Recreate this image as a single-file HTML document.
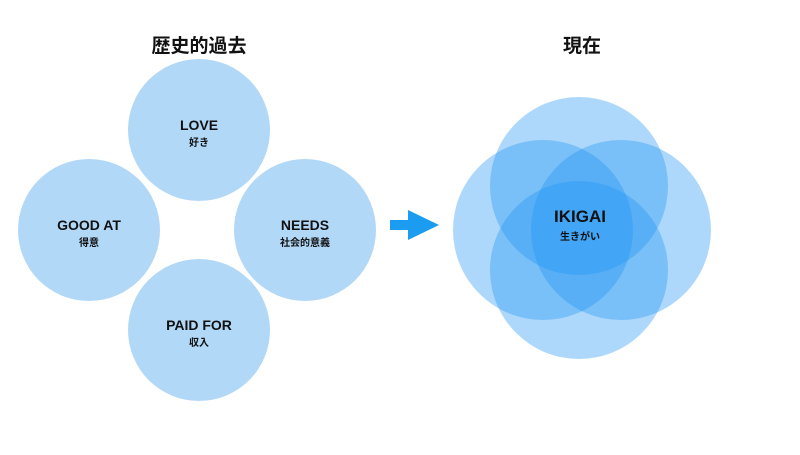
<!DOCTYPE html>
<html><head><meta charset="utf-8"><style>
body{margin:0;background:#fff;}
svg text{font-family:"Liberation Sans","Noto Sans CJK JP",sans-serif;font-weight:bold;fill:#111;text-anchor:middle;}
</style></head><body>
<svg width="800" height="450" viewBox="0 0 800 450" xmlns="http://www.w3.org/2000/svg">
<text x="199" y="52" font-size="19">歴史的過去</text>
<text x="582" y="52" font-size="19">現在</text>
<g fill="#b2d8f8">
<circle cx="199" cy="130" r="71"/>
<circle cx="89" cy="230" r="71"/>
<circle cx="305" cy="230" r="71"/>
<circle cx="199" cy="330" r="71"/>
</g>
<text x="199" y="130" font-size="14">LOVE</text>
<text x="199" y="146" font-size="10">好き</text>
<text x="89" y="230" font-size="14">GOOD AT</text>
<text x="89" y="246" font-size="10">得意</text>
<text x="305" y="230" font-size="14">NEEDS</text>
<text x="305" y="246" font-size="10">社会的意義</text>
<text x="199" y="330" font-size="14">PAID FOR</text>
<text x="199" y="346" font-size="10">収入</text>
<polygon points="390,220 408,220 408,210 439,225 408,240 408,230 390,230" fill="#1b9cf0"/>
<g fill="#2196f3" fill-opacity="0.37">
<circle cx="579" cy="186" r="89"/>
<circle cx="543" cy="230" r="90"/>
<circle cx="621" cy="230" r="90"/>
<circle cx="579" cy="270" r="89"/>
</g>
<text x="580" y="222" font-size="17">IKIGAI</text>
<text x="580" y="240" font-size="10">生きがい</text>
</svg>
</body></html>
